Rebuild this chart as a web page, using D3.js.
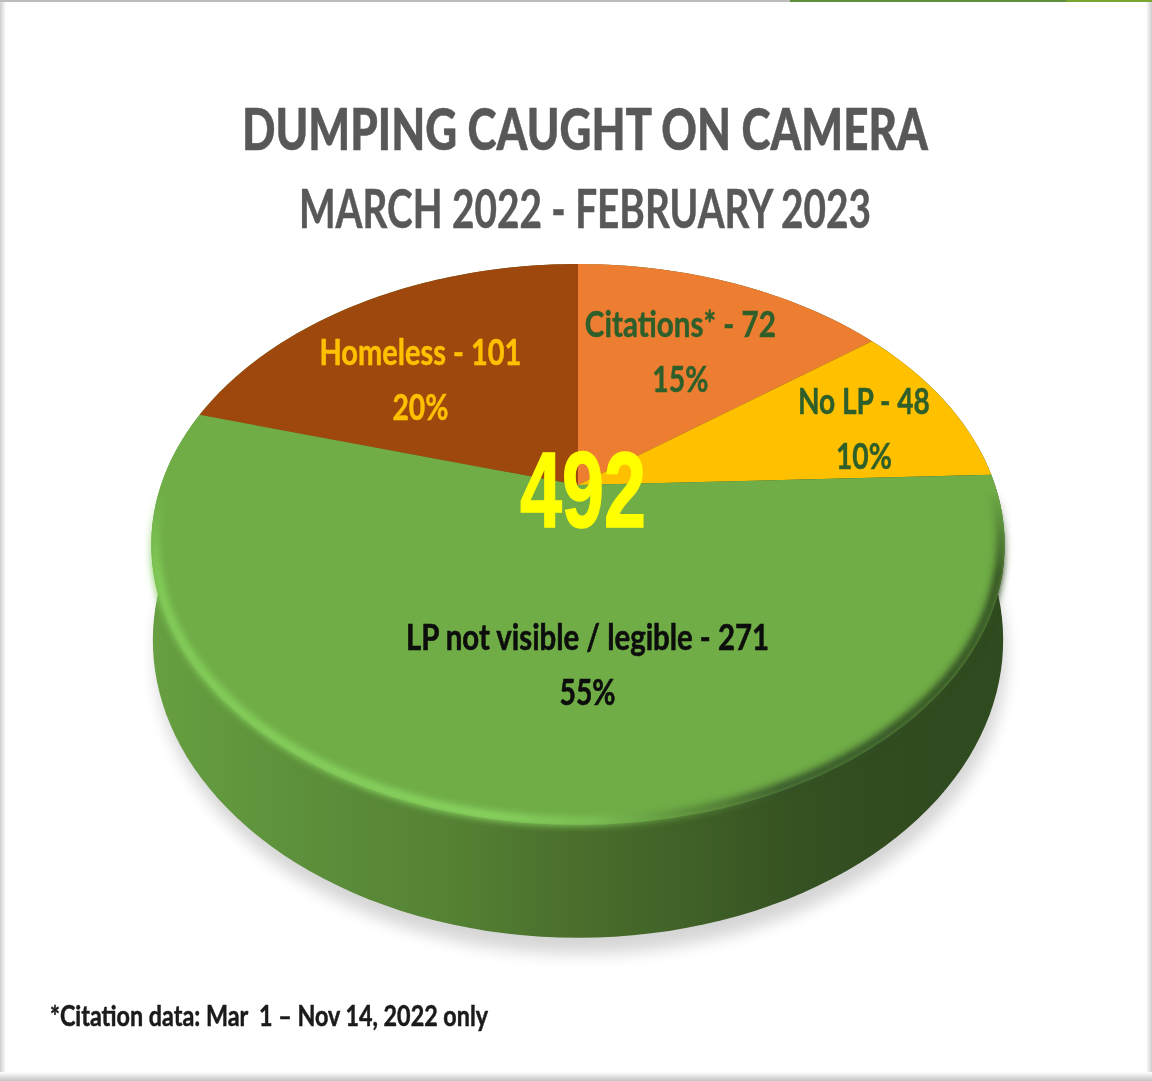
<!DOCTYPE html>
<html>
<head>
<meta charset="utf-8">
<script src="https://cdnjs.cloudflare.com/ajax/libs/d3/7.8.5/d3.min.js"></script>
<style>
  html, body { margin: 0; padding: 0; background: #fff; }
  svg { display: block; }
  text { font-family: Lato, "Open Sans", sans-serif; text-anchor: middle; white-space: pre; }
</style>
</head>
<body>
<div id="chart"></div>
<script>
const categories = ['Citations*', 'No LP', 'LP not visible / legible', 'Homeless'];
const counts = [72, 48, 271, 101];
const percentLabels = ['15%', '10%', '55%', '20%'];
const sliceColors = ['#ed7d31', '#ffc000', '#70ad47', '#9e480e'];
const labelColors = ['#2f5f2a', '#2f5f2a', '#0a0a0a', '#ffc000'];
const total = 492;

const titleText = 'DUMPING CAUGHT ON CAMERA';
const subtitleText = 'MARCH 2022 - FEBRUARY 2023';
const footnoteText = '*Citation data: Mar  1 \u2013 Nov 14, 2022 only';

const width = 1152, height = 1081;
const centerX = 578;

// tilted disc: unit circle through a perspective divide, so the slice
// meeting point sits above the middle of the ellipse like the excel 3d pie
const topFace = { b: 485, a: 165, c: -0.212, k: 417 };
const baseFace = { b: 577, a: 162, c: -0.212, k: 415.5 };

function project(face, angle, r) {
  const x = Math.sin(angle) * r;
  const y = -Math.cos(angle) * r;
  const w = 1 + face.c * y;
  return [centerX + face.k * x / w, (face.b + face.a * y) / w];
}

const line = d3.line().curve(d3.curveLinear);

function ring(face, r = 1) {
  return line(d3.range(0, 361, 2).map(d => project(face, d * Math.PI / 180, r))) + 'Z';
}

function slicePath(face, s) {
  const steps = Math.ceil((s.endAngle - s.startAngle) / 0.02);
  const pts = [project(face, 0, 0)];
  for (let i = 0; i <= steps; i++) {
    pts.push(project(face, s.startAngle + (s.endAngle - s.startAngle) * i / steps, 1));
  }
  return line(pts) + 'Z';
}

const svg = d3.select('#chart').append('svg')
    .attr('width', width)
    .attr('height', height)
    .attr('viewBox', `0 0 ${width} ${height}`);

const defs = svg.append('defs');

function blur(id, amount) {
  defs.append('filter').attr('id', id)
      .attr('x', '-10%').attr('y', '-10%').attr('width', '120%').attr('height', '120%')
      .append('feGaussianBlur').attr('stdDeviation', amount);
}
blur('shadowBlur', 8);
blur('rimBlur', 3.5);
blur('textBlur', 0.6);

function gradient(id, x1, x2, y1, y2, stops) {
  const g = defs.append('linearGradient').attr('id', id)
      .attr('gradientUnits', 'userSpaceOnUse')
      .attr('x1', x1).attr('x2', x2).attr('y1', y1).attr('y2', y2);
  stops.forEach(s => {
    g.append('stop').attr('offset', s[0]).attr('stop-color', s[1]);
  });
}
gradient('wallFill', 150, 1006, 0, 0, [[0, '#679f41'], [0.2, '#5c8e3a'], [0.35, '#558234'], [0.5, '#4a6e2c'], [0.64, '#3f6027'], [0.75, '#365222'], [0.85, '#324c20'], [1, '#2f4a1f']]);
gradient('rimStroke', 150, 1006, 0, 0, [[0, '#84cf5a'], [0.4, '#8ad763'], [0.52, '#7cc055'], [0.62, '#5e8f3c'], [0.74, '#35522a'], [1, '#2f4a1f']]);
gradient('rimFade', 0, 0, 490, 575, [[0, '#000'], [1, '#fff']]);
gradient('edgeBottom', 0, 0, 1072, 1081, [[0, '#ffffff'], [1, '#c4c4c4']]);
gradient('edgeLeft', 0, 6, 0, 0, [[0, '#cfcfcf'], [1, '#ffffff']]);
gradient('edgeRight', 1146, 1152, 0, 0, [[0, '#ffffff'], [1, '#cfcfcf']]);

defs.append('mask').attr('id', 'rimMask')
    .attr('maskUnits', 'userSpaceOnUse')
    .attr('x', 0).attr('y', 0).attr('width', width).attr('height', height)
    .append('rect').attr('width', width).attr('height', height).attr('fill', 'url(#rimFade)');

// page frame
svg.append('rect').attr('x', 0).attr('y', 0).attr('width', 6).attr('height', height).attr('fill', 'url(#edgeLeft)');
svg.append('rect').attr('x', 1146).attr('y', 0).attr('width', 6).attr('height', height).attr('fill', 'url(#edgeRight)');
svg.append('rect').attr('x', 0).attr('y', 1072).attr('width', width).attr('height', 9).attr('fill', 'url(#edgeBottom)');
svg.append('rect').attr('x', 0).attr('y', 0).attr('width', 790).attr('height', 2).attr('fill', '#bdbdbd');
svg.append('rect').attr('x', 790).attr('y', 0).attr('width', 276).attr('height', 2).attr('fill', '#5f8f3a');
svg.append('rect').attr('x', 1066).attr('y', 0).attr('width', 86).attr('height', 2).attr('fill', '#7aa52f');

const texts = svg.append('g').attr('filter', 'url(#textBlur)');

function fitText(parent, str, x, baseline, size, weight, fill, len) {
  return parent.append('text')
      .attr('x', x)
      .attr('y', baseline)
      .attr('font-size', size)
      .attr('font-weight', weight)
      .attr('fill', fill)
      .attr('stroke', fill)
      .attr('stroke-width', 0.5)
      .attr('textLength', len)
      .attr('lengthAdjust', 'spacingAndGlyphs')
      .text(str);
}

fitText(texts, titleText, 585, 150, 58, 900, '#595959', 686);
fitText(texts, subtitleText, 585, 228, 54, 700, '#595959', 572);
fitText(texts, footnoteText, 269, 1026, 28, 700, '#1a1a1a', 438);

// drop shadow and side wall, then the top face with its rim
svg.append('path').attr('d', ring(baseFace))
    .attr('fill', '#000').attr('opacity', 0.16)
    .attr('transform', 'translate(3,16)')
    .attr('filter', 'url(#shadowBlur)');

svg.append('path').attr('d', ring(baseFace)).attr('fill', 'url(#wallFill)');
svg.append('path').attr('d', ring(topFace)).attr('fill', 'url(#wallFill)');

const pie = d3.pie().sort(null).value(d => d);
const arcs = pie(counts);

svg.append('g').selectAll('path')
    .data(arcs)
    .join('path')
    .attr('d', d => slicePath(topFace, d))
    .attr('fill', (d, i) => sliceColors[i]);

// soft bevel on the lower edge only, bright on the left and dark on the right
svg.append('g').attr('mask', 'url(#rimMask)')
    .append('path').attr('d', ring(topFace, 0.992))
    .attr('fill', 'none')
    .attr('stroke', 'url(#rimStroke)')
    .attr('stroke-width', 9)
    .attr('filter', 'url(#rimBlur)');

// radius and angle nudge for each label, excel had them dragged by hand
const labelRadius = [0.618, 0.75, 0.59, 0.594];
const labelNudge = [0, 2.8, -8.9, -7];
const labelWidths = [191, 132, 363, 202];

const labels = svg.append('g').attr('filter', 'url(#textBlur)');
arcs.forEach((d, i) => {
  const mid = (d.startAngle + d.endAngle) / 2 + labelNudge[i] * Math.PI / 180;
  const p = project(topFace, mid, labelRadius[i]);
  fitText(labels, `${categories[i]} - ${counts[i]}`, p[0], p[1] - 15, 37, 700, labelColors[i], labelWidths[i]);
  fitText(labels, percentLabels[i], p[0], p[1] + 40, 37, 700, labelColors[i], 56);
});

svg.append('text')
    .attr('x', 583)
    .attr('y', 527)
    .attr('fill', '#ffff00')
    .attr('stroke', '#ffff00')
    .attr('stroke-width', 1.5)
    .attr('font-size', 108)
    .attr('font-weight', 700)
    .attr('textLength', 126)
    .attr('lengthAdjust', 'spacingAndGlyphs')
    .style('font-family', '"Liberation Sans", sans-serif')
    .text(total);
</script>
</body>
</html>
